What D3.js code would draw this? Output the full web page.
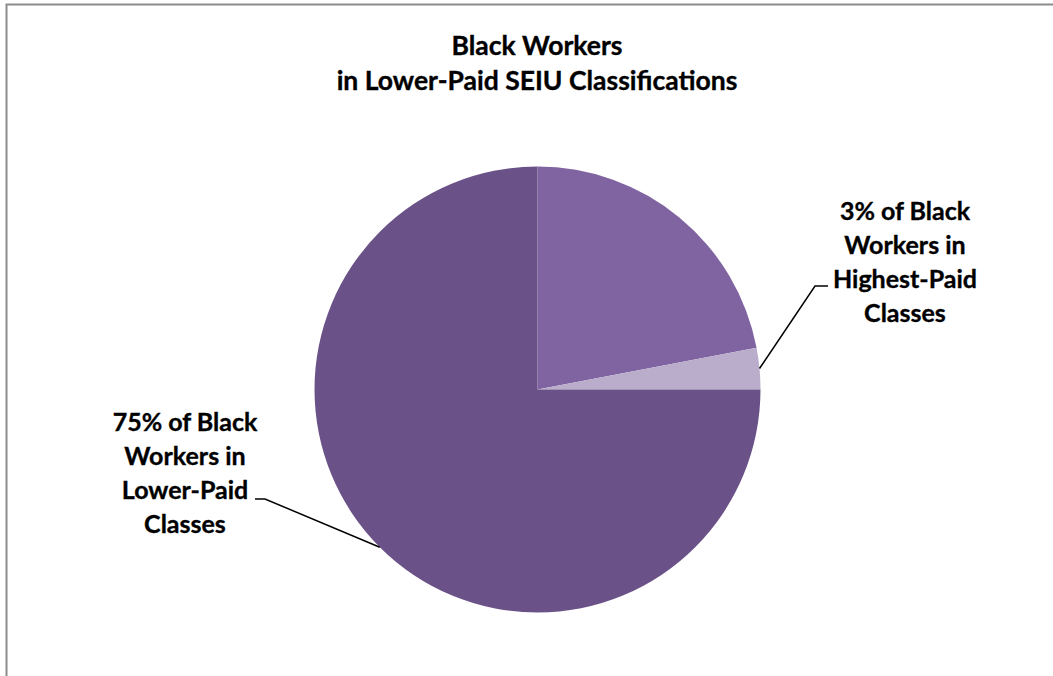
<!DOCTYPE html>
<html><head><meta charset="utf-8">
<script src="https://cdn.jsdelivr.net/npm/d3@7"></script>
<style>html,body{margin:0;padding:0;background:#fff;overflow:hidden}svg{display:block}</style>
</head><body>
<script>
const titleLines = ["Black Workers", "in Lower-Paid SEIU Classifications"];
const categories = ["Middle-Paid Classes", "Highest-Paid Classes", "Lower-Paid Classes"];
const values = [22, 3, 75];
const colors = ["#8064a2", "#b9adcb", "#6a5187"];
const labelHigh = ["3% of Black", "Workers in", "Highest-Paid", "Classes"];
const labelLow = ["75% of Black", "Workers in", "Lower-Paid", "Classes"];

const W = 1053, H = 676;
const svg = d3.select("body").append("svg").attr("width", W).attr("height", H);
svg.append("rect").attr("x", 6.5).attr("y", 4.5).attr("width", W + 10).attr("height", H + 10)
  .attr("fill", "#fff").attr("stroke", "#8c8c8c").attr("stroke-width", 2);

const font = "Lato, 'Open Sans', sans-serif";
svg.append("g").selectAll("text").data(titleLines).join("text")
  .attr("x", 537).attr("y", (d, i) => 55 + i * 35)
  .attr("text-anchor", "middle").attr("font-family", font).attr("font-weight", "bold")
  .attr("font-size", 26.5).attr("fill", "#000")
  .attr("stroke", "#000").attr("stroke-width", 0.35).text(d => d);

const cx = 537.5, cy = 389.5, r = 223;
const pie = d3.pie().sort(null).value(d => d)(values);
const arc = d3.arc().innerRadius(0).outerRadius(r);
const g = svg.append("g").attr("transform", `translate(${cx},${cy})`);
g.selectAll("path").data(pie).join("path").attr("d", arc).attr("fill", (d, i) => colors[i]);

// leader lines
const high = pie[1], low = pie[2];
function edgePoint(a) { return [cx + r * Math.sin(a), cy - r * Math.cos(a)]; }
const ph = edgePoint((high.startAngle + high.endAngle) / 2);
const pl = edgePoint((low.startAngle + low.endAngle) / 2);
svg.append("path").attr("d", `M${ph[0]},${ph[1]} L815,286 L828,286`)
  .attr("fill", "none").attr("stroke", "#000").attr("stroke-width", 1.5);
svg.append("path").attr("d", `M${pl[0]},${pl[1]} L265,499 L255,499`)
  .attr("fill", "none").attr("stroke", "#000").attr("stroke-width", 1.5);

function label(lines, x, y0) {
  svg.append("g").selectAll("text").data(lines).join("text")
    .attr("x", x).attr("y", (d, i) => y0 + i * 34)
    .attr("text-anchor", "middle").attr("font-family", font).attr("font-weight", "bold")
    .attr("font-size", 25).attr("fill", "#000")
    .attr("stroke", "#000").attr("stroke-width", 0.35).text(d => d);
}
label(labelHigh, 905, 220);
label(labelLow, 185, 431);
</script>
</body></html>
